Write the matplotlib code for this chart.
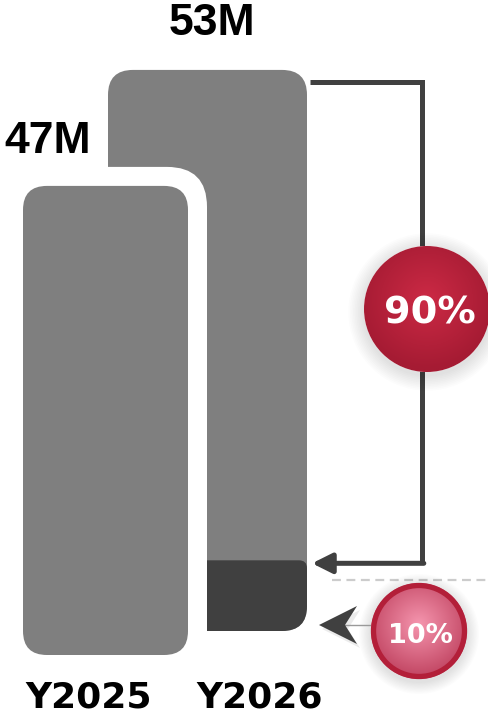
import numpy as np
import matplotlib.pyplot as plt
from matplotlib.patches import FancyBboxPatch, Circle, Polygon
from matplotlib.colors import LinearSegmentedColormap

years = ['Y2025', 'Y2026']
values = [47, 53]          # millions
value_labels = ['47M', '53M']
shares = [90, 10]          # split of the Y2026 bar, percent

# truncated value axis -> pixel scale
v0, px_per_m = 16.4, 15.33

fig = plt.figure(figsize=(4.89, 7.19), dpi=100)
ax = fig.add_axes([0, 0, 1, 1])
ax.set_xlim(0, 489)
ax.set_ylim(719, 0)
ax.set_aspect('equal')
ax.axis('off')

def bar_top(base, v):
    return base - (v - v0) * px_per_m

gray = '#7f7f7f'
dark = '#404040'

# back bar (Y2026)
b_left, b_right, b_base = 108, 307, 631
b_top = bar_top(b_base, values[1])
back = FancyBboxPatch((b_left, b_top), b_right - b_left, b_base - b_top,
                      boxstyle='round,pad=0,rounding_size=25', fc=gray, ec='none', zorder=1)
ax.add_patch(back)
# dark bottom share (drawn a little shorter than scale, as in the original)
seg_h = values[1] * shares[1] / 100 * px_per_m * 0.87
seg = FancyBboxPatch((b_left, b_base - seg_h), b_right - b_left, seg_h,
                     boxstyle='round,pad=0,rounding_size=8', fc=dark, ec='none', zorder=2)
ax.add_patch(seg)
seg.set_clip_path(back)

# front bar (Y2025) with white outline
f_left, f_right, f_base = 23, 188, 655
f_top = bar_top(f_base, values[0])
pad = 19
ax.add_patch(FancyBboxPatch((f_left - pad, f_top - pad), f_right - f_left + 2 * pad,
                            f_base - f_top + 2 * pad,
                            boxstyle='round,pad=0,rounding_size=40', fc='white', ec='none', zorder=3))
ax.add_patch(FancyBboxPatch((f_left, f_top), f_right - f_left, f_base - f_top,
                            boxstyle='round,pad=0,rounding_size=24', fc=gray, ec='none', zorder=4))

# value labels
ax.text((b_left + b_right) / 2 + 4, b_top - 35, value_labels[1], ha='center', va='baseline',
        fontsize=32, fontweight='bold', family='Liberation Sans', color='black')
ax.text(4, f_top - 33, value_labels[0], ha='left', va='baseline',
        fontsize=32, fontweight='bold', family='Liberation Sans', color='black')

# category labels
ax.text(89, 707, years[0], ha='center', va='baseline', fontsize=26, fontweight='bold',
        family='DejaVu Sans', color='black')
ax.text(260, 707, years[1], ha='center', va='baseline', fontsize=26, fontweight='bold',
        family='DejaVu Sans', color='black')

# bracket to the dark share
bx = 422
seg_top = b_base - seg_h
ax.plot([310, bx, bx], [b_top + 12, b_top + 12, seg_top + 3], color=dark, lw=3.6,
        solid_joinstyle='miter', solid_capstyle='butt', zorder=5)
ax.annotate('', xy=(312, seg_top + 3), xytext=(bx + 1.8, seg_top + 3),
            arrowprops=dict(arrowstyle='-|>,head_length=0.6,head_width=0.3', lw=3.6,
                            color=dark, shrinkA=0, shrinkB=0, mutation_scale=20), zorder=5)

# dashed separator
ax.plot([332, 489], [580, 580], color='#cccccc', lw=1.6, ls=(0, (4, 2.5)), zorder=1)


def gradient_circle(cx, cy, r, c_in, c_out, zorder):
    for k in np.linspace(1.25, 1.02, 10):
        ax.add_patch(Circle((cx, cy + 3), r * k, fc='black', alpha=0.012, ec='none', zorder=zorder - 1))
    ax.add_patch(Circle((cx, cy), r, fc='white', ec='none', zorder=zorder - 0.5))
    n = 200
    yy, xx = np.mgrid[-1:1:n * 1j, -1:1:n * 1j]
    d = np.sqrt(xx ** 2 + (yy + 0.15) ** 2)
    cmap = LinearSegmentedColormap.from_list('g', [c_in, c_out])
    im = ax.imshow(d, cmap=cmap, vmin=0, vmax=1.1, extent=(cx - r, cx + r, cy + r, cy - r),
                   origin='upper', zorder=zorder, interpolation='bilinear')
    clip = Circle((cx, cy), r, transform=ax.transData)
    im.set_clip_path(clip)


# 90% badge
c90 = (427, 309, 63)
gradient_circle(*c90, '#cc2a45', '#a51b33', zorder=7)
ax.text(c90[0] + 3, 323, f'{shares[0]}%', ha='center', va='baseline', fontsize=27.5,
        fontweight='bold', family='DejaVu Sans', color='white', zorder=8)

# 10% badge
c10 = (419, 631, 48)
gradient_circle(c10[0], c10[1], c10[2], '#f595ae', '#c24663', zorder=7)
ax.add_patch(Circle((c10[0], c10[1]), c10[2] - 2.5, fc='none', ec='#b31f39', lw=3.8, zorder=8))
ax.text(c10[0] + 1.5, 643, f'{shares[1]}%', ha='center', va='baseline', fontsize=19.5,
        fontweight='bold', family='DejaVu Sans', color='white', zorder=9)

# pointer from the 10% badge
tip_x, tip_y = 319, 625
ax.plot([tip_x + 26, c10[0] - c10[2]], [tip_y, tip_y], color='#9a9a9a', lw=1, zorder=6)
ax.add_patch(Polygon([(tip_x + 3, tip_y + 4), (tip_x + 41, tip_y - 15), (tip_x + 29, tip_y + 4),
                      (tip_x + 41, tip_y + 23)], closed=True, fc='black', alpha=0.08,
                     ec='none', zorder=5))
ax.add_patch(Polygon([(tip_x, tip_y), (tip_x + 38, tip_y - 19), (tip_x + 26, tip_y),
                      (tip_x + 38, tip_y + 19)], closed=True, fc=dark, ec='none', zorder=6))

fig.savefig('out.png', dpi=100)
